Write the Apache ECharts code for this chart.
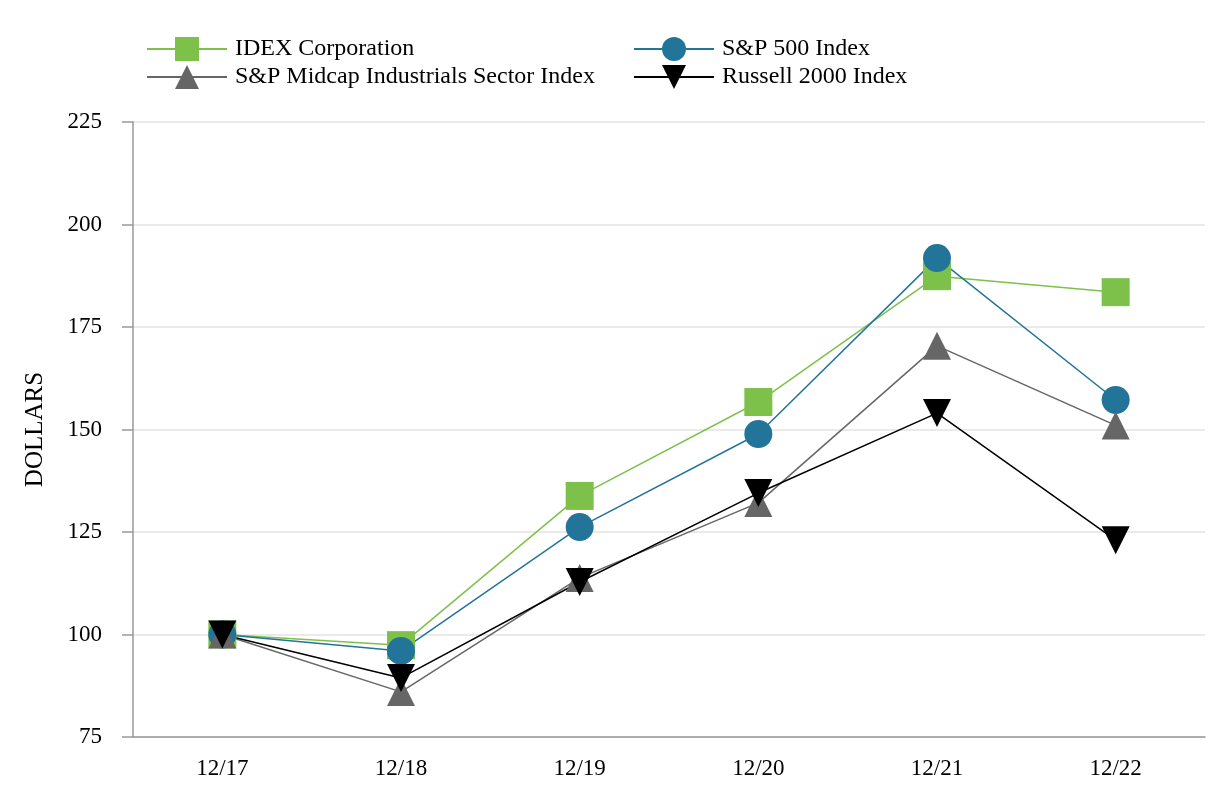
<!DOCTYPE html>
<html><head><meta charset="utf-8">
<script src="https://cdn.jsdelivr.net/npm/echarts@6/dist/echarts.min.js"></script>
<style>html,body{margin:0;padding:0;background:#fff}#c{width:1226px;height:800px}</style>
</head><body><div id="c"></div>
<script>
const categories = ['12/17','12/18','12/19','12/20','12/21','12/22'];
const idex = [100, 97.4, 133.8, 156.7, 187.4, 183.5];
const sp500 = [100, 96.0, 126.2, 148.9, 191.8, 157.2];
const midcap = [100, 86.0, 113.8, 132.1, 170.4, 151.0];
const russell = [100, 89.4, 112.8, 134.5, 154.0, 123.0];
const yTicks = [75, 100, 125, 150, 175, 200, 225];

const font = 'Liberation Serif';
const chart = echarts.init(document.getElementById('c'));
function s(name, data, color, symbol, rotate) {
  return {
    name, type: 'line', data, symbol, symbolSize: 28, symbolRotate: rotate || 0,
    lineStyle: { color, width: 1.5 }, itemStyle: { color },
    emphasis: { disabled: true }, animation: false
  };
}
const legendCommon = {
  orient: 'vertical', top: 32, itemWidth: 80, itemHeight: 30, itemGap: 4,
  textStyle: { fontFamily: font, fontSize: 24, color: '#000', padding: [0, 0, 0, 3] },
  selectedMode: false
};
chart.setOption({
  animation: false,
  textStyle: { fontFamily: font },
  legend: [
    Object.assign({ left: 141, data: ['IDEX Corporation', 'S&P Midcap Industrials Sector Index'] }, legendCommon),
    Object.assign({ left: 628, data: ['S&P 500 Index', 'Russell 2000 Index'] }, legendCommon)
  ],
  grid: { left: 133, right: 21, top: 122, bottom: 63, containLabel: false },
  xAxis: {
    type: 'category', data: categories, boundaryGap: true,
    axisLine: { lineStyle: { color: '#999', width: 1.5 } },
    axisTick: { alignWithLabel: true, length: 11, lineStyle: { color: '#999', width: 1.5 } },
    axisLabel: { fontFamily: font, fontSize: 23, color: '#000', margin: 20 }
  },
  yAxis: {
    type: 'value', min: yTicks[0], max: yTicks[yTicks.length - 1], interval: 25,
    name: 'DOLLARS', nameLocation: 'middle', nameGap: 85,
    nameTextStyle: { fontFamily: font, fontSize: 25, color: '#000' },
    axisLine: { show: true, lineStyle: { color: '#999', width: 1.5 } },
    axisTick: { show: true, length: 11, lineStyle: { color: '#999', width: 1.5 } },
    splitLine: { lineStyle: { color: '#e3e3e3', width: 1.5 } },
    axisLabel: { fontFamily: font, fontSize: 23, color: '#000', margin: 31 }
  },
  series: [
    s('IDEX Corporation', idex, '#7dc14b', 'rect'),
    s('S&P 500 Index', sp500, '#237499', 'circle'),
    s('S&P Midcap Industrials Sector Index', midcap, '#666666', 'triangle'),
    s('Russell 2000 Index', russell, '#000000', 'triangle', 180)
  ]
});
</script></body></html>
